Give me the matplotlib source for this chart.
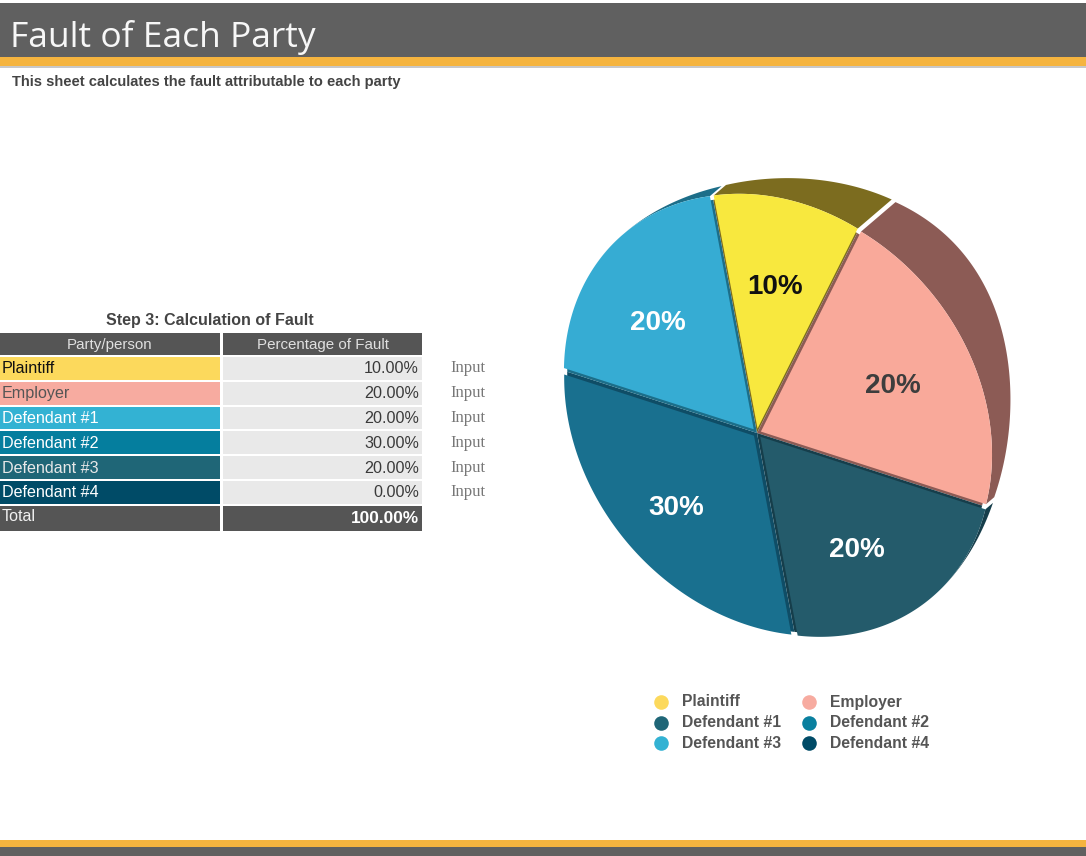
import numpy as np
import matplotlib.pyplot as plt
from matplotlib.patches import Polygon, Rectangle

# data
parties = ['Plaintiff', 'Employer', 'Defendant #1', 'Defendant #2', 'Defendant #3', 'Defendant #4']
fault_pct = [10.0, 20.0, 20.0, 30.0, 20.0, 0.0]
total_pct = 100.0

table_colors = ['#fcd95c', '#f7aba0', '#33b2d3', '#057e9e', '#1f6677', '#004b67']
table_text = ['#111111', '#555555', '#ffffff', '#ffffff', '#e8e8e8', '#ffffff']
legend_colors = ['#fcd95c', '#f7aba0', '#1f6677', '#0a809f', '#33b2d3', '#004b67']
pie_face = ['#f8e83e', '#f9a99a', '#245b6b', '#19708f', '#36acd3', '#0b4a63']
pie_side = ['#7c6c1f', '#8c5b55', '#163e4b', '#0f4d66', '#1c6e89', '#06303f']
pie_label_colors = ['#111111', '#3d3d3d', 'white', 'white', 'white', 'white']

GRAY = '#606060'
ORANGE = '#f5b43f'
SANS = 'Liberation Sans'

fig = plt.figure(figsize=(10.86, 8.56), dpi=100)
ax = fig.add_axes([0, 0, 1, 1])
ax.set_xlim(0, 1086)
ax.set_ylim(856, 0)
ax.axis('off')

# header / footer bars
ax.add_patch(Rectangle((0, 3), 1086, 54, color=GRAY, lw=0))
ax.add_patch(Rectangle((0, 57), 1086, 9, color=ORANGE, lw=0))
ax.add_patch(Rectangle((0, 66), 1086, 2, color='#c8c8c8', lw=0))
ax.add_patch(Rectangle((0, 840), 1086, 7, color=ORANGE, lw=0))
ax.add_patch(Rectangle((0, 847), 1086, 9, color=GRAY, lw=0))
ax.text(10, 47, 'Fault of Each Party', color='#f7f7f7', fontsize=25.5,
        family='Open Sans', va='baseline')
ax.text(12, 82, 'This sheet calculates the fault attributable to each party',
        color='#444444', fontsize=10.6, family=SANS, weight='bold', va='center')

# table
ax.text(210, 321, 'Step 3: Calculation of Fault', color='#444444', fontsize=11.5,
        family=SANS, weight='bold', ha='center', va='center')
ax.add_patch(Rectangle((0, 333), 220, 22, color='#555555', lw=0))
ax.add_patch(Rectangle((223, 333), 199, 22, color='#555555', lw=0))
ax.text(110, 344.5, 'Party/person', color='#e0e0e0', fontsize=10.9, family=SANS,
        ha='center', va='center')
ax.text(323, 344.5, 'Percentage of Fault', color='#e0e0e0', fontsize=10.9,
        family=SANS, ha='center', va='center')

row_h = 24.8
y0 = 357
for i, (name, pct) in enumerate(zip(parties, fault_pct)):
    y = y0 + i * row_h
    ax.add_patch(Rectangle((0, y), 220, row_h - 2, color=table_colors[i], lw=0))
    ax.add_patch(Rectangle((223, y), 199, row_h - 2, color='#e9e9e9', lw=0))
    ax.text(2, y + row_h / 2 - 0.5, name, color=table_text[i], fontsize=11.6,
            family=SANS, va='center')
    ax.text(419, y + row_h / 2 - 0.5, f'{pct:.2f}%', color='#3a3a3a', fontsize=11.6,
            family=SANS, ha='right', va='center')
    ax.text(450, y + row_h / 2 - 1, 'Input', color='#777777', fontsize=12,
            family='Liberation Serif', va='center')
y = y0 + len(parties) * row_h
ax.add_patch(Rectangle((0, y), 220, row_h, color='#555555', lw=0))
ax.add_patch(Rectangle((223, y), 199, row_h, color='#555555', lw=0))
ax.text(2, y + row_h / 2 - 1.5, 'Total', color='#f0f0f0', fontsize=11.6, family=SANS,
        va='center')
ax.text(419, y + row_h / 2, f'{total_pct:.2f}%', color='white', fontsize=12.4,
        family=SANS, weight='bold', ha='right', va='center')

# tilted pie: pie angles -> perspective radius -> affine squash
APEX = (757, 433)
R0, KAPPA, ALPHA = 210, 0.14, 40
AX_A, AX_B, PHI = 1.1, 0.9, 130
START = 95.5
SIDE_T, SIDE_DIR = 50, np.array([0.76, -0.65])
EXPLODE = 4.5
u = np.array([np.cos(np.radians(PHI)), np.sin(np.radians(PHI))])
w = np.array([-u[1], u[0]])


def project(theta, frac, shift=(0, 0)):
    t = np.radians(theta)
    rho = R0 / (1 - KAPPA * np.cos(t - np.radians(ALPHA))) * frac
    px = rho * np.cos(t) + shift[0]
    py = rho * np.sin(t) + shift[1]
    cu = px * u[0] + py * u[1]
    cw = px * w[0] + py * w[1]
    vx = AX_A * cu * u[0] + AX_B * cw * w[0]
    vy = AX_A * cu * u[1] + AX_B * cw * w[1]
    return np.column_stack([APEX[0] + vx, APEX[1] - vy])


angle = START
for i, v in enumerate(fault_pct):
    if v <= 0:
        continue
    th1, th2 = angle, angle - v * 3.6
    angle = th2
    mid = (th1 + th2) / 2
    shift = (EXPLODE * np.cos(np.radians(mid)), EXPLODE * np.sin(np.radians(mid)))
    arc_t = np.linspace(th1, th2, 120)
    arc = project(arc_t, 1, shift)
    face = np.vstack([project(np.array([mid]), 0, shift), arc])
    base = np.vstack([project(np.array([mid]), 0), project(arc_t, 1)])
    # visible rim: thickness fades away from the upper-right
    psi = np.arctan2(APEX[1] - arc[:, 1], arc[:, 0] - APEX[0])
    thick = SIDE_T * np.clip(np.cos(psi - np.radians(45)), 0, None) ** 2
    rim = np.vstack([arc, (arc + thick[:, None] * SIDE_DIR)[::-1]])
    ax.add_patch(Polygon(rim, closed=True, color=pie_side[i], lw=0, zorder=2))
    ax.add_patch(Polygon(base, closed=True, color=pie_side[i], lw=0, zorder=3))
    ax.add_patch(Polygon(face, closed=True, color=pie_face[i], lw=0, zorder=4))
    lx, ly = project(np.array([mid]), 0.63, shift)[0]
    ax.text(lx, ly + 3, f'{v:.0f}%', color=pie_label_colors[i], fontsize=20,
            family=SANS, weight='bold', ha='center', va='center', zorder=5)

# legend
for i, name in enumerate(parties):
    col, row = i % 2, i // 2
    mx = 661 + col * 148
    my = 702 + row * 20.5
    ax.scatter([mx], [my], s=110, color=legend_colors[i], lw=0, zorder=5)
    ax.text(mx + 21, my, name, color='#555555', fontsize=11.3, family=SANS,
            weight='bold', va='center')

fig.savefig('out.png', dpi=100)
